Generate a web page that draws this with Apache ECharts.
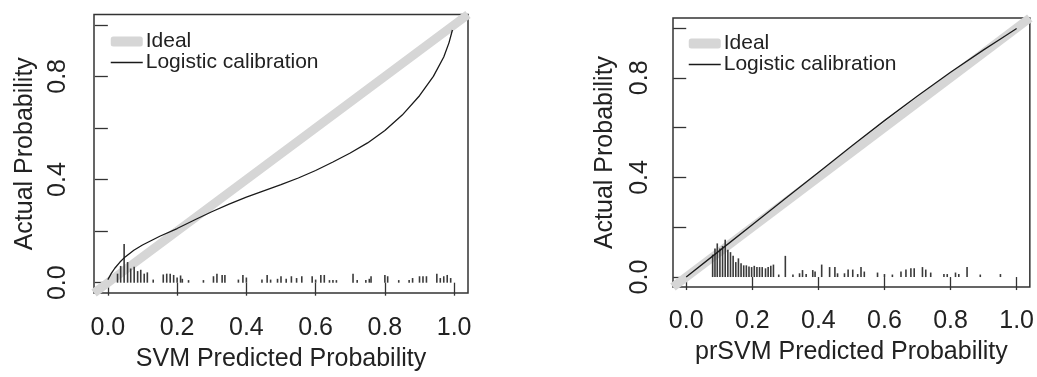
<!DOCTYPE html>
<html>
<head>
<meta charset="utf-8">
<script src="https://cdn.jsdelivr.net/npm/echarts@6/dist/echarts.min.js"></script>
<style>
html,body{margin:0;padding:0;background:#fff;}
#chart{width:1037px;height:377px;}
</style>
</head>
<body>
<div id="chart"></div>
<script>
// ---- data ----
const xTicks = [0, 0.2, 0.4, 0.6, 0.8, 1.0];
const yTicks = [0, 0.2, 0.4, 0.6, 0.8, 1.0];
const yTickLabels = [0, 0.4, 0.8];
const ideal = [[-0.04, -0.04], [1.04, 1.04]];

// SVM (left panel) logistic calibration curve
const svmCurveX = [0.0, 0.01, 0.02, 0.035, 0.05, 0.075, 0.1, 0.15, 0.2, 0.25, 0.3, 0.35, 0.4, 0.45, 0.5, 0.55, 0.6, 0.65, 0.7, 0.75, 0.8, 0.85, 0.9, 0.94, 0.97, 0.985, 0.995];
const svmCurveY = [0.012, 0.036, 0.056, 0.08, 0.1, 0.126, 0.146, 0.18, 0.21, 0.243, 0.275, 0.305, 0.332, 0.356, 0.38, 0.406, 0.435, 0.468, 0.503, 0.542, 0.59, 0.65, 0.725, 0.8, 0.875, 0.93, 0.98];
// SVM spike histogram of predicted probabilities: [x, height]
const svmSpikes = [[0.028,0.035],[0.037,0.065],[0.047,0.15],[0.057,0.08],[0.066,0.055],[0.076,0.062],[0.086,0.045],[0.095,0.05],[0.105,0.035],[0.114,0.04],[0.131,0.012],[0.16,0.032],[0.17,0.035],[0.18,0.035],[0.19,0.03],[0.2,0.02],[0.21,0.028],[0.215,0.015],[0.233,0.01],[0.276,0.01],[0.305,0.025],[0.315,0.035],[0.33,0.03],[0.338,0.03],[0.377,0.012],[0.39,0.03],[0.40,0.02],[0.445,0.012],[0.46,0.03],[0.47,0.012],[0.49,0.015],[0.5,0.025],[0.515,0.015],[0.53,0.025],[0.545,0.018],[0.56,0.025],[0.59,0.025],[0.6,0.012],[0.615,0.03],[0.625,0.03],[0.64,0.01],[0.65,0.01],[0.66,0.01],[0.708,0.035],[0.72,0.01],[0.745,0.01],[0.755,0.015],[0.76,0.025],[0.8,0.03],[0.808,0.025],[0.84,0.01],[0.87,0.01],[0.88,0.018],[0.9,0.025],[0.91,0.025],[0.92,0.025],[0.95,0.035],[0.96,0.018],[0.97,0.025],[0.98,0.03],[0.99,0.018]];

// prSVM (right panel) logistic calibration curve
const prCurveX = [0.0, 0.1, 0.2, 0.3, 0.4, 0.5, 0.6, 0.7, 0.8, 0.9, 0.95, 1.0];
const prCurveY = [0.0, 0.105, 0.21, 0.315, 0.42, 0.525, 0.628, 0.727, 0.822, 0.912, 0.955, 0.998];
const prSpikes = [[0.08,0.09],[0.087,0.115],[0.094,0.135],[0.102,0.115],[0.11,0.125],[0.118,0.15],[0.126,0.11],[0.134,0.1],[0.142,0.085],[0.15,0.06],[0.158,0.075],[0.166,0.055],[0.174,0.047],[0.182,0.047],[0.19,0.042],[0.198,0.04],[0.206,0.045],[0.214,0.04],[0.222,0.04],[0.23,0.04],[0.24,0.035],[0.248,0.04],[0.256,0.045],[0.264,0.05],[0.28,0.01],[0.30,0.085],[0.323,0.01],[0.343,0.015],[0.352,0.028],[0.363,0.012],[0.383,0.028],[0.39,0.022],[0.41,0.05],[0.434,0.04],[0.45,0.04],[0.458,0.015],[0.479,0.015],[0.49,0.03],[0.504,0.03],[0.519,0.012],[0.529,0.04],[0.539,0.022],[0.579,0.018],[0.6,0.012],[0.624,0.01],[0.65,0.022],[0.665,0.03],[0.68,0.035],[0.69,0.035],[0.715,0.04],[0.725,0.03],[0.74,0.018],[0.78,0.012],[0.79,0.012],[0.815,0.018],[0.825,0.012],[0.85,0.04],[0.89,0.01],[0.951,0.012]];

const xTitles = ['SVM Predicted Probability', 'prSVM Predicted Probability'];
const yTitle = 'Actual Probability';
const legendNames = ['Ideal', 'Logistic calibration'];

// ---- chart ----
const FONT = "'Liberation Sans', Arial, sans-serif";
const TXT = '#222';
const BOX = '#333';
const FS = 25;
const zip = (a, b) => a.map((v, i) => [v, b[i]]);

function xAxisCfg(idx, title, margin, nameGap) {
  return {
    gridIndex: idx, type: 'value', min: -0.04, max: 1.04,
    axisLine: { show: false }, splitLine: { show: false },
    axisTick: { show: true, customValues: xTicks, length: 13, lineStyle: { color: BOX, width: 1.3 } },
    axisLabel: { customValues: xTicks, formatter: v => v.toFixed(1), margin: margin,
      fontSize: FS, fontFamily: FONT, color: TXT },
    name: title, nameLocation: 'middle', nameGap: nameGap,
    nameTextStyle: { fontSize: FS, fontFamily: FONT, color: TXT }
  };
}
function yAxisCfg(idx, margin, nameGap) {
  return {
    gridIndex: idx, type: 'value', min: -0.04, max: 1.04,
    axisLine: { show: false }, splitLine: { show: false },
    axisTick: { show: true, customValues: yTicks, length: 13, lineStyle: { color: BOX, width: 1.3 } },
    axisLabel: { customValues: yTickLabels, formatter: v => v.toFixed(1), rotate: 90, margin: margin,
      fontSize: FS, fontFamily: FONT, color: TXT },
    name: yTitle, nameLocation: 'middle', nameGap: nameGap,
    nameTextStyle: { fontSize: FS, fontFamily: FONT, color: TXT }
  };
}
function spikeSeries(idx, data) {
  return {
    type: 'custom', xAxisIndex: idx, yAxisIndex: idx, data: data, encode: { x: 0, y: 1 },
    silent: true, z: 3,
    renderItem: (params, api) => {
      const p0 = api.coord([api.value(0), 0]);
      const p1 = api.coord([api.value(0), api.value(1)]);
      return { type: 'line', shape: { x1: p0[0], y1: p0[1], x2: p1[0], y2: p1[1] },
        style: { stroke: '#3a3a3a', lineWidth: 1.6 } };
    }
  };
}
function idealSeries(idx) {
  return { name: legendNames[0], type: 'line', xAxisIndex: idx, yAxisIndex: idx, data: ideal,
    symbol: 'none', silent: true, z: 1,
    lineStyle: { color: '#d6d6d6', width: 9, cap: 'butt' }, itemStyle: { color: '#d6d6d6' } };
}
function curveSeries(idx, xs, ys) {
  return { name: legendNames[1], type: 'line', xAxisIndex: idx, yAxisIndex: idx, data: zip(xs, ys),
    symbol: 'none', smooth: false, silent: true, z: 4,
    lineStyle: { color: '#1a1a1a', width: 1.3, join: 'round' }, itemStyle: { color: '#1a1a1a' } };
}
function legendCfg(left, top) {
  return {
    orient: 'vertical', left: left, top: top, padding: 0, itemGap: 0,
    itemWidth: 32, itemHeight: 10, selectedMode: false,
    data: [
      { name: legendNames[0], icon: 'roundRect', itemStyle: { color: '#d6d6d6', borderWidth: 0 } },
      { name: legendNames[1], itemStyle: { color: 'transparent', borderColor: 'transparent', borderWidth: 0 },
        lineStyle: { color: '#1a1a1a', width: 1.5 } }
    ],
    textStyle: { fontSize: 21, fontFamily: FONT, color: TXT, lineHeight: 17, padding: [0, 0, 0, -2] }
  };
}

const chart = echarts.init(document.getElementById('chart'), null, { renderer: 'canvas' });
chart.setOption({
  animation: false,
  backgroundColor: '#fff',
  grid: [
    { left: 94, top: 14.5, width: 374, height: 283, show: true, borderColor: BOX, borderWidth: 1.5, backgroundColor: 'transparent' },
    { left: 673, top: 18, width: 358, height: 269, show: true, borderColor: BOX, borderWidth: 1.5, backgroundColor: 'transparent' }
  ],
  xAxis: [xAxisCfg(0, xTitles[0], 23, 54), xAxisCfg(1, xTitles[1], 22, 53)],
  yAxis: [yAxisCfg(0, 23, 56), yAxisCfg(1, 20, 55)],
  legend: [legendCfg(110, 31), legendCfg(688, 33)],
  series: [
    idealSeries(0), curveSeries(0, svmCurveX, svmCurveY), spikeSeries(0, svmSpikes),
    idealSeries(1), curveSeries(1, prCurveX, prCurveY), spikeSeries(1, prSpikes)
  ]
});
</script>
</body>
</html>
